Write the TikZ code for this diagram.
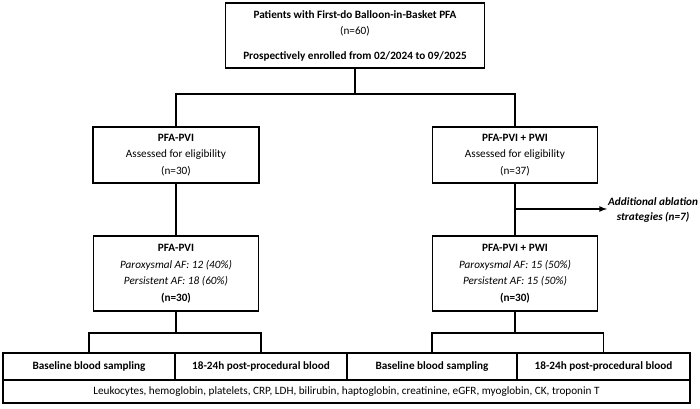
\documentclass[tikz,border=0pt]{standalone}
\usepackage{fontspec}
\setmainfont{Carlito}
\usepackage{tikz}
\usetikzlibrary{positioning}
\tikzset{>=latex}
\tikzset{
    box/.style={draw, line width=1.6pt, align=center, inner sep=2pt,
        font=\fontsize{11.2}{16.5}\selectfont},
    cell/.style={draw, line width=1.6pt, inner sep=0pt, minimum height=27pt,
        font=\fontsize{11.2}{13}\selectfont\bfseries},
    link/.style={line width=1.6pt},
}

\begin{document}
\begin{tikzpicture}[x=1pt, y=-1pt]
    \useasboundingbox (0, 0) rectangle (700, 408);
    % enrolment
    \node[box, minimum width=259pt, minimum height=65pt] (enrol) at (355, 35.5)
        {\textbf{Patients with First-do Balloon-in-Basket PFA}\\(n=60)\\[8pt]
         \textbf{Prospectively enrolled from 02/2024 to 09/2025}};
    % eligibility
    \node[box, minimum width=166pt, minimum height=56pt] (eligpvi) at (176, 155)
        {\textbf{PFA-PVI}\\Assessed for eligibility\\(n=30)};
    \node[box, minimum width=165pt, minimum height=56pt] (eligpwi) at (515, 155)
        {\textbf{PFA-PVI + PWI}\\Assessed for eligibility\\(n=37)};
    % groups
    \node[box, minimum width=165pt, minimum height=75pt] (grppvi) at (176, 273.5)
        {\textbf{PFA-PVI}\\\textit{Paroxysmal AF: 12 (40\%)}\\
         \textit{Persistent AF: 18 (60\%)}\\\textbf{(n=30)}};
    \node[box, minimum width=165pt, minimum height=75pt] (grppwi) at (515, 273.5)
        {\textbf{PFA-PVI + PWI}\\\textit{Paroxysmal AF: 15 (50\%)}\\
         \textit{Persistent AF: 15 (50\%)}\\\textbf{(n=30)}};
    \node[align=center, anchor=west, inner sep=1pt,
        font=\fontsize{11.2}{15}\selectfont\bfseries\itshape] (extra) at (607, 210)
        {Additional ablation\\strategies (n=7)};
    % blood sampling
    \node[cell, minimum width=172pt] (basepvi) at (89, 366.5) {Baseline blood sampling};
    \node[cell, minimum width=172pt] (postpvi) at (261, 366.5) {18-24h post-procedural blood};
    \node[cell, minimum width=170pt] (basepwi) at (432, 366.5) {Baseline blood sampling};
    \node[cell, minimum width=173pt] (postpwi) at (603.5, 366.5) {18-24h post-procedural blood};
    \node[cell, minimum width=687pt, minimum height=23pt, font=\fontsize{11.2}{13}\selectfont]
        (labs) at (346.5, 391.5)
        {Leukocytes, hemoglobin, platelets, CRP, LDH, bilirubin, haptoglobin, creatinine, eGFR, myoglobin, CK, troponin T};
    % connectors
    \draw[link] (enrol.south) -- ++(0, 25) coordinate (split);
    \draw[link] (eligpvi.north) |- (split) -| (eligpwi.north);
    \draw[link] (eligpvi.south) -- (grppvi.north);
    \draw[link] (eligpwi.south) -- (grppwi.north);
    \path (eligpwi.south) -- (grppwi.north) coordinate[pos=0.49] (side);
    \draw[link, ->] (side) -- (side -| extra.west);
    \draw[link] (grppvi.south) -- ++(0, 21) coordinate (forkpvi);
    \draw[link] (basepvi.north) |- (forkpvi) -| (postpvi.north);
    \draw[link] (grppwi.south) -- ++(0, 21) coordinate (forkpwi);
    \draw[link] (basepwi.north) |- (forkpwi) -| (postpwi.north);
\end{tikzpicture}
\end{document}
